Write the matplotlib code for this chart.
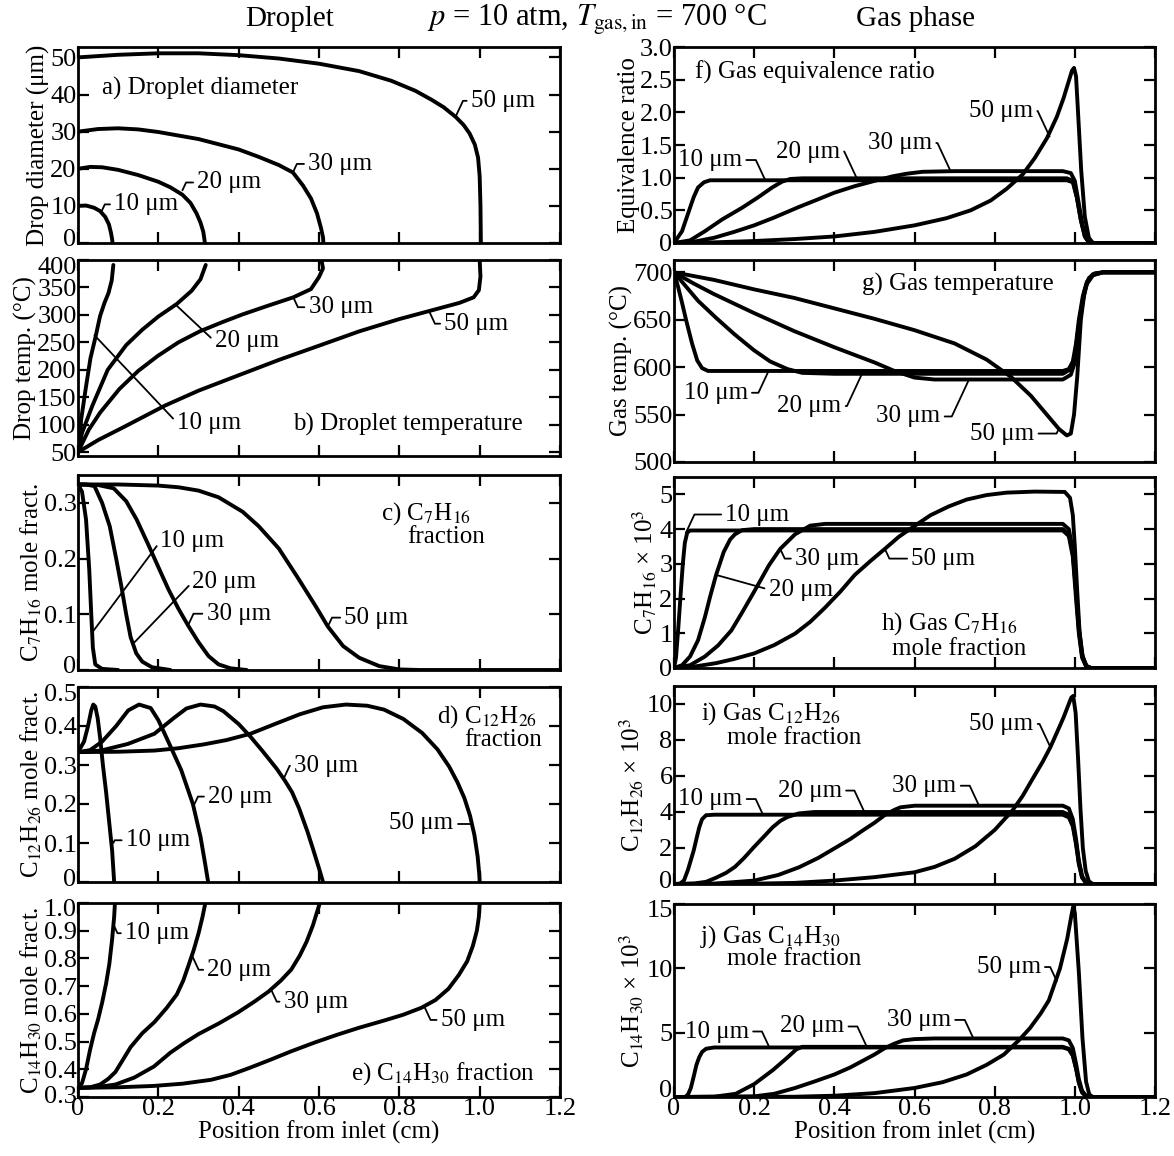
import matplotlib
matplotlib.use("Agg")
import matplotlib.pyplot as plt
from matplotlib.transforms import ScaledTranslation

plt.rcParams['font.family'] = ['Liberation Serif', 'DejaVu Serif']
plt.rcParams['mathtext.fontset'] = 'stix'

# ---- data: (position from inlet in cm, value) ----
sizes = [10, 20, 30, 50]

diam = {
    10: [(0, 10), (0.02, 10.1), (0.04, 9.5), (0.055, 8.6), (0.068, 7), (0.077, 5), (0.082, 2.8), (0.085, 1), (0.086, 0)],
    20: [(0, 20), (0.03, 20.5), (0.06, 20.4), (0.1, 19.7), (0.15, 18.3), (0.2, 16.5), (0.23, 15), (0.26, 13),
         (0.28, 10.8), (0.295, 8), (0.305, 5.5), (0.312, 3), (0.316, 0)],
    30: [(0, 30), (0.05, 30.7), (0.1, 30.9), (0.15, 30.6), (0.2, 29.9), (0.3, 28), (0.4, 25.2), (0.45, 23.2),
         (0.5, 21), (0.535, 19), (0.56, 15.5), (0.58, 12), (0.595, 8), (0.605, 4), (0.61, 1.5), (0.611, 0)],
    50: [(0, 50), (0.1, 50.7), (0.2, 51.1), (0.3, 51.1), (0.4, 50.6), (0.5, 49.7), (0.6, 48.3), (0.7, 46.3),
         (0.78, 43.7), (0.84, 41), (0.88, 38.6), (0.91, 36.6), (0.94, 34), (0.96, 31.8), (0.975, 29.5), (0.988, 26.5),
         (0.996, 23), (1.0, 18), (1.002, 10), (1.003, 0)],
}

dtemp = {
    10: [(0, 50), (0.008, 110), (0.019, 165), (0.031, 221), (0.044, 261), (0.055, 298), (0.066, 322), (0.076, 340),
         (0.084, 363), (0.088, 391)],
    20: [(0, 50), (0.01, 85), (0.036, 135), (0.074, 200), (0.12, 245), (0.16, 273), (0.2, 297), (0.246, 320),
         (0.283, 344), (0.305, 365), (0.318, 391)],
    30: [(0, 50), (0.027, 91), (0.055, 122), (0.103, 165), (0.15, 198), (0.198, 225), (0.25, 250), (0.303, 270),
         (0.36, 287), (0.41, 301), (0.47, 316), (0.536, 332), (0.58, 347), (0.6, 369), (0.61, 385), (0.606, 400)],
    50: [(0, 50), (0.05, 72), (0.112, 95), (0.217, 135), (0.3, 162), (0.389, 187), (0.5, 218), (0.608, 246),
         (0.7, 270), (0.798, 292), (0.874, 307), (0.95, 322), (0.985, 332), (0.998, 345), (1.002, 370), (1.0, 400)],
}

c7 = {
    10: [(0, 0.333), (0.01, 0.32), (0.02, 0.27), (0.028, 0.18), (0.033, 0.1), (0.037, 0.04), (0.043, 0.01),
         (0.06, 0.002), (0.1, 0)],
    20: [(0, 0.333), (0.02, 0.333), (0.041, 0.33), (0.06, 0.3), (0.079, 0.258), (0.095, 0.2), (0.108, 0.15),
         (0.12, 0.1), (0.131, 0.059), (0.145, 0.03), (0.16, 0.015), (0.184, 0.005), (0.23, 0.0)],
    30: [(0, 0.333), (0.05, 0.332), (0.089, 0.326), (0.12, 0.303), (0.146, 0.27), (0.175, 0.225), (0.203, 0.18),
         (0.225, 0.145), (0.25, 0.11), (0.274, 0.08), (0.3, 0.05), (0.325, 0.025), (0.35, 0.01), (0.38, 0.003),
         (0.42, 0)],
    50: [(0, 0.333), (0.1, 0.333), (0.2, 0.331), (0.25, 0.328), (0.3, 0.322), (0.35, 0.31), (0.41, 0.284),
         (0.45, 0.258), (0.5, 0.218), (0.546, 0.167), (0.593, 0.113), (0.622, 0.078), (0.66, 0.043), (0.7, 0.022),
         (0.75, 0.007), (0.8, 0.001), (0.85, 0), (1.2, 0)],
}

c12 = {
    10: [(0, 0.333), (0.015, 0.36), (0.025, 0.4), (0.033, 0.44), (0.038, 0.455), (0.043, 0.45), (0.049, 0.42),
         (0.055, 0.37), (0.062, 0.3), (0.07, 0.23), (0.077, 0.16), (0.085, 0.08), (0.09, 0)],
    20: [(0, 0.333), (0.03, 0.338), (0.06, 0.36), (0.095, 0.4), (0.125, 0.44), (0.152, 0.455), (0.181, 0.446),
         (0.2, 0.415), (0.219, 0.373), (0.257, 0.287), (0.286, 0.2), (0.305, 0.116), (0.316, 0.05), (0.324, 0)],
    30: [(0, 0.333), (0.057, 0.337), (0.124, 0.354), (0.19, 0.38), (0.238, 0.42), (0.27, 0.445), (0.305, 0.455),
         (0.34, 0.45), (0.362, 0.438), (0.4, 0.405), (0.429, 0.373), (0.46, 0.335), (0.495, 0.29), (0.515, 0.26),
         (0.533, 0.23), (0.55, 0.19), (0.571, 0.13), (0.585, 0.085), (0.6, 0.035), (0.61, 0)],
    50: [(0, 0.333), (0.1, 0.334), (0.19, 0.337), (0.25, 0.343), (0.314, 0.353), (0.37, 0.364), (0.429, 0.38),
         (0.49, 0.405), (0.552, 0.43), (0.61, 0.448), (0.667, 0.455), (0.72, 0.452), (0.762, 0.442), (0.81, 0.418),
         (0.857, 0.382), (0.895, 0.34), (0.924, 0.296), (0.945, 0.255), (0.962, 0.215), (0.976, 0.17),
         (0.987, 0.12), (0.995, 0.065), (0.999, 0.02), (1.0, 0)],
}

c14 = {
    10: [(0, 0.333), (0.01, 0.35), (0.02, 0.4), (0.03, 0.47), (0.04, 0.53), (0.05, 0.58), (0.06, 0.64), (0.07, 0.71),
         (0.078, 0.78), (0.085, 0.87), (0.09, 0.95), (0.092, 1.0)],
    20: [(0, 0.333), (0.03, 0.335), (0.055, 0.345), (0.075, 0.365), (0.093, 0.39), (0.11, 0.43), (0.131, 0.48),
         (0.16, 0.53), (0.19, 0.57), (0.22, 0.62), (0.246, 0.67), (0.262, 0.72), (0.274, 0.77), (0.288, 0.83),
         (0.3, 0.89), (0.31, 0.95), (0.317, 1.0)],
    30: [(0, 0.333), (0.05, 0.336), (0.093, 0.345), (0.14, 0.37), (0.189, 0.41), (0.23, 0.46), (0.265, 0.495),
         (0.3, 0.527), (0.35, 0.565), (0.398, 0.605), (0.44, 0.645), (0.474, 0.68), (0.505, 0.72), (0.531, 0.76),
         (0.552, 0.81), (0.569, 0.86), (0.585, 0.92), (0.602, 1.0)],
    50: [(0, 0.333), (0.1, 0.335), (0.189, 0.34), (0.26, 0.348), (0.331, 0.362), (0.38, 0.38), (0.427, 0.405),
         (0.48, 0.435), (0.531, 0.465), (0.59, 0.497), (0.646, 0.525), (0.7, 0.55), (0.76, 0.575), (0.81, 0.597),
         (0.855, 0.622), (0.89, 0.65), (0.922, 0.69), (0.948, 0.74), (0.969, 0.79), (0.983, 0.845), (0.993, 0.9),
         (0.998, 0.95), (1.0, 1.0)],
}

phi = {
    10: [(0, 0), (0.02, 0.18), (0.035, 0.45), (0.049, 0.7), (0.06, 0.85), (0.075, 0.93), (0.09, 0.96), (0.5, 0.96),
         (0.98, 0.96), (0.995, 0.93), (1.005, 0.7), (1.015, 0.35), (1.025, 0.1), (1.035, 0.01), (1.05, 0), (1.2, 0)],
    20: [(0, 0), (0.04, 0.04), (0.077, 0.18), (0.12, 0.36), (0.17, 0.54), (0.21, 0.7), (0.245, 0.85), (0.27, 0.94),
         (0.29, 0.98), (0.32, 0.99), (0.98, 0.99), (0.995, 0.95), (1.005, 0.7), (1.015, 0.35), (1.025, 0.1),
         (1.035, 0.01), (1.05, 0), (1.2, 0)],
    30: [(0, 0), (0.05, 0.02), (0.1, 0.08), (0.15, 0.17), (0.2, 0.27), (0.25, 0.39), (0.311, 0.55), (0.36, 0.67),
         (0.4, 0.77), (0.451, 0.87), (0.5, 0.95), (0.545, 1.02), (0.58, 1.06), (0.62, 1.09), (0.7, 1.1), (0.97, 1.1),
         (0.99, 1.07), (1.0, 0.95), (1.01, 0.6), (1.02, 0.25), (1.03, 0.06), (1.04, 0), (1.2, 0)],
    50: [(0, 0), (0.1, 0.01), (0.2, 0.03), (0.3, 0.06), (0.4, 0.1), (0.5, 0.17), (0.6, 0.27), (0.68, 0.38),
         (0.74, 0.5), (0.79, 0.65), (0.83, 0.83), (0.87, 1.05), (0.9, 1.3), (0.93, 1.6), (0.955, 1.93), (0.972, 2.22),
         (0.985, 2.48), (0.993, 2.64), (0.998, 2.68), (1.003, 2.55), (1.008, 2.0), (1.016, 1.1), (1.025, 0.4),
         (1.035, 0.08), (1.045, 0), (1.2, 0)],
}

gtemp = {
    10: [(0, 700), (0.01, 685), (0.02, 668), (0.03, 650), (0.045, 625), (0.058, 607), (0.07, 599), (0.085, 596),
         (0.6, 596), (0.97, 596), (0.985, 598), (0.995, 606), (1.003, 625), (1.01, 650), (1.02, 675), (1.03, 690),
         (1.045, 698), (1.07, 700), (1.2, 700)],
    20: [(0, 700), (0.03, 685), (0.06, 670), (0.105, 652), (0.15, 635), (0.199, 618), (0.24, 606), (0.283, 598),
         (0.32, 594), (0.4, 593), (0.97, 593), (0.99, 598), (1.0, 612), (1.01, 645), (1.02, 672), (1.03, 688),
         (1.045, 697), (1.07, 700), (1.2, 700)],
    30: [(0, 700), (0.05, 688), (0.1, 677), (0.2, 657), (0.3, 638), (0.4, 621), (0.5, 605), (0.55, 596), (0.6, 589),
         (0.65, 587), (0.97, 587), (0.99, 592), (1.0, 605), (1.01, 640), (1.02, 670), (1.03, 688), (1.045, 697),
         (1.07, 700), (1.2, 700)],
    50: [(0, 700), (0.1, 692), (0.2, 682), (0.3, 673), (0.4, 662), (0.5, 651), (0.6, 639), (0.7, 625), (0.78, 608),
         (0.84, 590), (0.89, 570), (0.93, 550), (0.96, 535), (0.98, 528), (0.99, 530), (0.998, 550), (1.006, 590),
         (1.015, 650), (1.025, 682), (1.035, 694), (1.05, 699), (1.07, 700), (1.2, 700)],
}

gc7 = {
    10: [(0, 0), (0.005, 0.3), (0.011, 1.2), (0.017, 2.2), (0.022, 3.0), (0.027, 3.6), (0.033, 3.9), (0.04, 3.96),
         (0.97, 3.96), (0.985, 3.8), (0.995, 3.2), (1.003, 2.0), (1.01, 1.0), (1.018, 0.3), (1.028, 0.05), (1.04, 0),
         (1.2, 0)],
    20: [(0, 0), (0.02, 0.08), (0.04, 0.33), (0.06, 0.8), (0.077, 1.46), (0.09, 2.05), (0.105, 2.68), (0.124, 3.34),
         (0.14, 3.7), (0.152, 3.85), (0.17, 3.97), (0.2, 4.0), (0.97, 4.0), (0.985, 3.85), (0.995, 3.3), (1.003, 2.2),
         (1.01, 1.1), (1.018, 0.35), (1.028, 0.06), (1.04, 0), (1.2, 0)],
    30: [(0, 0), (0.04, 0.08), (0.077, 0.33), (0.11, 0.65), (0.143, 1.08), (0.17, 1.6), (0.2, 2.2), (0.237, 2.96),
         (0.265, 3.43), (0.302, 3.85), (0.34, 4.1), (0.377, 4.15), (0.97, 4.15), (0.985, 4.0), (0.995, 3.4),
         (1.003, 2.3), (1.01, 1.2), (1.018, 0.4), (1.028, 0.06), (1.04, 0), (1.2, 0)],
    50: [(0, 0), (0.05, 0.04), (0.105, 0.14), (0.15, 0.26), (0.2, 0.42), (0.25, 0.66), (0.302, 0.99), (0.34, 1.33),
         (0.377, 1.74), (0.415, 2.2), (0.451, 2.68), (0.49, 3.08), (0.526, 3.43), (0.56, 3.77), (0.6, 4.09),
         (0.64, 4.4), (0.685, 4.65), (0.73, 4.85), (0.78, 4.98), (0.83, 5.05), (0.9, 5.08), (0.975, 5.07),
         (0.988, 4.9), (0.995, 4.4), (1.0, 3.5), (1.006, 2.2), (1.012, 1.0), (1.02, 0.3), (1.03, 0.05), (1.04, 0),
         (1.2, 0)],
}

gc12 = {
    10: [(0, 0), (0.015, 0.02), (0.025, 0.2), (0.035, 0.8), (0.049, 1.85), (0.057, 2.6), (0.063, 3.15), (0.07, 3.6),
         (0.08, 3.82), (0.1, 3.85), (0.97, 3.85), (0.985, 3.7), (0.995, 3.2), (1.003, 2.2), (1.01, 1.1),
         (1.018, 0.35), (1.028, 0.05), (1.04, 0), (1.2, 0)],
    20: [(0, 0), (0.05, 0.03), (0.08, 0.12), (0.105, 0.35), (0.13, 0.62), (0.152, 0.95), (0.175, 1.45), (0.199, 2.04),
         (0.225, 2.65), (0.246, 3.15), (0.265, 3.5), (0.283, 3.72), (0.311, 3.92), (0.35, 4.0), (0.97, 4.0),
         (0.985, 3.85), (0.995, 3.3), (1.003, 2.3), (1.01, 1.2), (1.018, 0.4), (1.028, 0.06), (1.04, 0), (1.2, 0)],
    30: [(0, 0), (0.1, 0.02), (0.2, 0.19), (0.26, 0.5), (0.312, 0.93), (0.36, 1.45), (0.405, 2.04), (0.44, 2.5),
         (0.47, 2.96), (0.5, 3.4), (0.527, 3.85), (0.55, 4.12), (0.565, 4.26), (0.6, 4.35), (0.97, 4.35),
         (0.985, 4.2), (0.995, 3.6), (1.003, 2.5), (1.01, 1.3), (1.018, 0.45), (1.028, 0.07), (1.04, 0), (1.2, 0)],
    50: [(0, 0), (0.2, 0.02), (0.3, 0.06), (0.4, 0.19), (0.5, 0.38), (0.6, 0.65), (0.65, 0.95), (0.7, 1.4),
         (0.752, 2.1), (0.8, 3.0), (0.845, 4.1), (0.87, 4.9), (0.892, 5.74), (0.92, 6.8), (0.939, 7.6), (0.957, 8.5),
         (0.972, 9.26), (0.984, 9.95), (0.991, 10.35), (0.996, 10.45), (1.002, 9.5), (1.008, 7.0), (1.014, 4.2),
         (1.02, 2.0), (1.027, 0.74), (1.035, 0.15), (1.045, 0), (1.2, 0)],
}

gc14 = {
    10: [(0, 0), (0.028, 0), (0.035, 0.2), (0.042, 0.7), (0.05, 1.7), (0.056, 2.5), (0.063, 3.1), (0.07, 3.5),
         (0.08, 3.75), (0.1, 3.85), (0.97, 3.85), (0.985, 3.7), (0.995, 3.2), (1.003, 2.2), (1.01, 1.1),
         (1.018, 0.35), (1.028, 0.05), (1.04, 0), (1.2, 0)],
    20: [(0, 0), (0.1, 0.02), (0.154, 0.25), (0.2, 1.0), (0.247, 2.1), (0.284, 3.1), (0.305, 3.7), (0.32, 3.9),
         (0.97, 3.9), (0.985, 3.75), (0.995, 3.25), (1.003, 2.25), (1.01, 1.15), (1.018, 0.38), (1.028, 0.06),
         (1.04, 0), (1.2, 0)],
    30: [(0, 0), (0.2, 0.05), (0.25, 0.25), (0.302, 0.7), (0.35, 1.2), (0.4, 1.75), (0.44, 2.3), (0.47, 2.8),
         (0.5, 3.3), (0.526, 3.8), (0.55, 4.15), (0.572, 4.4), (0.6, 4.5), (0.65, 4.55), (0.97, 4.55), (0.985, 4.4),
         (0.995, 3.8), (1.003, 2.6), (1.01, 1.4), (1.018, 0.5), (1.028, 0.08), (1.04, 0), (1.2, 0)],
    50: [(0, 0), (0.3, 0.02), (0.4, 0.1), (0.5, 0.3), (0.6, 0.7), (0.67, 1.15), (0.73, 1.75), (0.78, 2.5),
         (0.823, 3.3), (0.86, 4.4), (0.888, 5.35), (0.915, 6.5), (0.935, 7.5), (0.963, 10), (0.981, 12.3),
         (0.992, 14.2), (0.996, 14.8), (1.0, 14.3), (1.005, 12.0), (1.01, 9.7), (1.019, 4.6), (1.028, 1.2),
         (1.036, 0.2), (1.045, 0), (1.2, 0)],
}

x_ticks = [0, 0.2, 0.4, 0.6, 0.8, 1.0, 1.2]
x_labels = ["0", "0.2", "0.4", "0.6", "0.8", "1.0", "1.2"]

W, H = 1174, 1156
fig = plt.figure(figsize=(W / 100, H / 100), dpi=100)
FS = 18


def make_axes(left, right, top, bottom):
    return fig.add_axes([left / W, 1 - bottom / H, (right - left) / W, (bottom - top) / H])


def style(ax, ylim, yticks, ylabels, ylabel, bottom_row, shift_top=0, shift_bottom=0):
    ax.set_xlim(0, 1.2)
    ax.set_ylim(*ylim)
    ax.set_xticks(x_ticks)
    ax.set_yticks(yticks)
    ax.set_yticklabels(ylabels)
    if bottom_row:
        ax.set_xticklabels(x_labels)
        ax.set_xlabel("Position from inlet (cm)", fontsize=FS, labelpad=0)
    else:
        ax.set_xticklabels([])
    ax.set_ylabel(ylabel, fontsize=FS, labelpad=0)
    ax.tick_params(direction='in', length=8, width=1.6, top=True, right=True, labelsize=19, pad=1)
    for sp in ax.spines.values():
        sp.set_linewidth(2.0)
    # nudge end labels apart where neighbouring panels / x labels sit close
    labels = ax.get_yticklabels()
    if shift_top:
        labels[-1].set_transform(labels[-1].get_transform() + ScaledTranslation(0, -shift_top / 72, fig.dpi_scale_trans))
    if shift_bottom:
        labels[0].set_transform(labels[0].get_transform() + ScaledTranslation(0, shift_bottom / 72, fig.dpi_scale_trans))


def draw(ax, curves):
    for s in sizes:
        xs = [p[0] for p in curves[s]]
        ys = [p[1] for p in curves[s]]
        ax.plot(xs, ys, color='black', lw=2.8, solid_joinstyle='round', solid_capstyle='round')


def tag(ax, text, xy, xyt, side='left', hook=True):
    rel = (0, 0.5) if side == 'left' else (1, 0.5)
    props = dict(arrowstyle='-', lw=1.3, color='black', shrinkA=1, shrinkB=0, relpos=rel)
    if hook:
        ang = 65 if (xyt[0] - xy[0]) * (xyt[1] - xy[1]) > 0 else -65
        props['connectionstyle'] = f"angle,angleA=0,angleB={ang},rad=0"
    ax.annotate(text, xy=xy, xytext=xyt, ha=side, va='center', fontsize=FS, arrowprops=props)


L0, L1 = 78, 560
R0, R1 = 674, 1155

# a) droplet diameter
ax = make_axes(L0, L1, 47, 243)
draw(ax, diam)
style(ax, (0, 52.8), [0, 10, 20, 30, 40, 50], ["0", "10", "20", "30", "40", "50"], "Drop diameter (μm)", False,
      shift_bottom=4)
ax.text(0.059, 41.7, "a) Droplet diameter", fontsize=FS, va='center')
tag(ax, "10 μm", (0.059, 8.6), (0.09, 10.4))
tag(ax, "20 μm", (0.26, 14.2), (0.297, 16.3))
tag(ax, "30 μm", (0.535, 19), (0.573, 21.3))
tag(ax, "50 μm", (0.94, 34), (0.978, 38.3))

# b) droplet temperature
ax = make_axes(L0, L1, 260, 456)
draw(ax, dtemp)
style(ax, (43, 400), [50, 100, 150, 200, 250, 300, 350, 400],
      ["50", "100", "150", "200", "250", "300", "350", "400"], "Drop temp. (°C)", False, shift_top=4)
ax.text(0.536, 100, "b) Droplet temperature", fontsize=FS, va='center')
tag(ax, "10 μm", (0.041, 263), (0.246, 104), hook=False)
tag(ax, "20 μm", (0.244, 318), (0.34, 252), hook=False)
tag(ax, "30 μm", (0.536, 332), (0.574, 314))
tag(ax, "50 μm", (0.874, 307), (0.912, 284))

# c) C7H16 fraction
ax = make_axes(L0, L1, 475, 670)
draw(ax, c7)
style(ax, (0, 0.35), [0, 0.1, 0.2, 0.3], ["0", "0.1", "0.2", "0.3"], r"C$_7$H$_{16}$ mole fract.", False,
      shift_bottom=4)
ax.text(0.755, 0.28, r"c) C$_7$H$_{16}$", fontsize=FS, va='center')
ax.text(0.82, 0.238, "fraction", fontsize=FS, va='center')
tag(ax, "10 μm", (0.036, 0.068), (0.205, 0.231), hook=False)
tag(ax, "20 μm", (0.141, 0.05), (0.285, 0.158), hook=False)
tag(ax, "30 μm", (0.274, 0.08), (0.32, 0.101))
tag(ax, "50 μm", (0.622, 0.078), (0.663, 0.094))

# d) C12H26 fraction
ax = make_axes(L0, L1, 687, 882)
draw(ax, c12)
style(ax, (0, 0.5), [0, 0.1, 0.2, 0.3, 0.4, 0.5], ["0", "0.1", "0.2", "0.3", "0.4", "0.5"],
      r"C$_{12}$H$_{26}$ mole fract.", False, shift_top=4, shift_bottom=3)
ax.text(0.895, 0.425, r"d) C$_{12}$H$_{26}$", fontsize=FS, va='center')
ax.text(0.962, 0.364, "fraction", fontsize=FS, va='center')
tag(ax, "10 μm", (0.088, 0.1), (0.119, 0.107))
tag(ax, "20 μm", (0.29, 0.2), (0.324, 0.219))
tag(ax, "30 μm", (0.512, 0.265), (0.538, 0.298))
tag(ax, "50 μm", (0.978, 0.15), (0.935, 0.15), side='right')

# e) C14H30 fraction
ax = make_axes(L0, L1, 903, 1097)
draw(ax, c14)
style(ax, (0.3, 1.0), [0.3, 0.4, 0.5, 0.6, 0.7, 0.8, 0.9, 1.0],
      ["0.3", "0.4", "0.5", "0.6", "0.7", "0.8", "0.9", "1.0"], r"C$_{14}$H$_{30}$ mole fract.", True,
      shift_top=3, shift_bottom=2)
ax.text(0.679, 0.384, r"e) C$_{14}$H$_{30}$ fraction", fontsize=FS, va='center')
tag(ax, "10 μm", (0.089, 0.92), (0.117, 0.891))
tag(ax, "20 μm", (0.284, 0.81), (0.322, 0.759))
tag(ax, "30 μm", (0.48, 0.69), (0.512, 0.644))
tag(ax, "50 μm", (0.862, 0.627), (0.903, 0.578))

# f) equivalence ratio
ax = make_axes(R0, R1, 47, 243)
draw(ax, phi)
style(ax, (0, 3.0), [0, 0.5, 1.0, 1.5, 2.0, 2.5, 3.0], ["0", "0.5", "1.0", "1.5", "2.0", "2.5", "3.0"],
      "Equivalence ratio", False)
ax.text(0.053, 2.61, "f) Gas equivalence ratio", fontsize=FS, va='center')
tag(ax, "10 μm", (0.227, 0.97), (0.17, 1.27), side='right')
tag(ax, "20 μm", (0.456, 0.99), (0.414, 1.4), side='right')
tag(ax, "30 μm", (0.69, 1.1), (0.644, 1.53), side='right')
tag(ax, "50 μm", (0.937, 1.63), (0.896, 2.02), side='right')

# g) gas temperature
ax = make_axes(R0, R1, 260, 462)
draw(ax, gtemp)
style(ax, (500, 713), [500, 550, 600, 650, 700], ["500", "550", "600", "650", "700"], "Gas temp. (°C)", False)
ax.text(0.469, 687, "g) Gas temperature", fontsize=FS, va='center')
tag(ax, "10 μm", (0.236, 596), (0.184, 573), side='right')
tag(ax, "20 μm", (0.469, 593), (0.418, 559), side='right')
tag(ax, "30 μm", (0.736, 587), (0.665, 548), side='right')
tag(ax, "50 μm", (0.96, 535), (0.899, 530), side='right')

# h) gas C7H16
ax = make_axes(R0, R1, 477, 668)
draw(ax, gc7)
style(ax, (0, 5.5), [0, 1, 2, 3, 4, 5], ["0", "1", "2", "3", "4", "5"], r"C$_7$H$_{16}$ × 10$^3$", False)
ax.text(0.517, 1.27, r"h) Gas C$_7$H$_{16}$", fontsize=FS, va='center')
ax.text(0.545, 0.56, "mole fraction", fontsize=FS, va='center')
tag(ax, "10 μm", (0.03, 3.9), (0.128, 4.42))
tag(ax, "20 μm", (0.105, 2.68), (0.236, 2.26), hook=False)
tag(ax, "30 μm", (0.265, 3.43), (0.302, 3.15))
tag(ax, "50 μm", (0.526, 3.43), (0.592, 3.15))

# i) gas C12H26
ax = make_axes(R0, R1, 686, 884)
draw(ax, gc12)
style(ax, (0, 11), [0, 2, 4, 6, 8, 10], ["0", "2", "4", "6", "8", "10"], r"C$_{12}$H$_{26}$ × 10$^3$", False,
      shift_bottom=3)
ax.text(0.067, 9.45, r"i) Gas C$_{12}$H$_{26}$", fontsize=FS, va='center')
ax.text(0.133, 8.1, "mole fraction", fontsize=FS, va='center')
tag(ax, "10 μm", (0.222, 3.85), (0.171, 4.72), side='right')
tag(ax, "20 μm", (0.475, 4.0), (0.419, 5.19), side='right')
tag(ax, "30 μm", (0.761, 4.35), (0.705, 5.46), side='right')
tag(ax, "50 μm", (0.939, 7.6), (0.897, 8.89), side='right')

# j) gas C14H30
ax = make_axes(R0, R1, 904, 1097)
draw(ax, gc14)
style(ax, (0, 15), [0, 5, 10, 15], ["0", "5", "10", "15"], r"C$_{14}$H$_{30}$ × 10$^3$", True,
      shift_top=3, shift_bottom=6)
ax.text(0.065, 12.5, r"j) Gas C$_{14}$H$_{30}$", fontsize=FS, va='center')
ax.text(0.131, 10.7, "mole fraction", fontsize=FS, va='center')
tag(ax, "10 μm", (0.238, 3.85), (0.187, 5.09), side='right')
tag(ax, "20 μm", (0.481, 3.9), (0.425, 5.48), side='right')
tag(ax, "30 μm", (0.747, 4.55), (0.691, 5.99), side='right')
tag(ax, "50 μm", (0.955, 9.0), (0.915, 10.1), side='right')

# column headings
fig.text(290 / W, 1 - 19 / H, "Droplet", ha='center', va='center', fontsize=21)
fig.text(597 / W, 1 - 19 / H, r"$p$ = 10 atm, $T_{\mathrm{gas,in}}$ = 700 °C", ha='center', va='center',
         fontsize=22)
fig.text(915 / W, 1 - 19 / H, "Gas phase", ha='center', va='center', fontsize=21)

fig.savefig("out.png", dpi=100)
